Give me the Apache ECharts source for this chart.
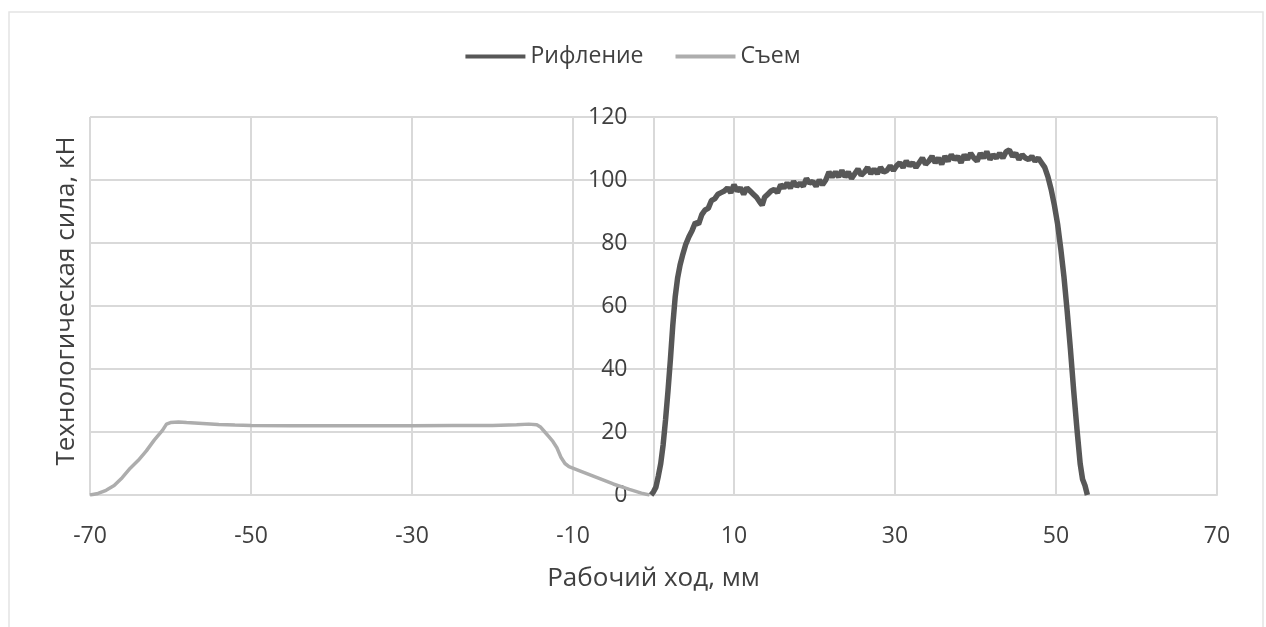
<!DOCTYPE html>
<html>
<head>
<meta charset="utf-8">
<script src="https://cdn.jsdelivr.net/npm/echarts@6/dist/echarts.min.js"></script>
<style>
html,body{margin:0;padding:0;background:#fff;}
#chart{width:1266px;height:627px;}
</style>
</head>
<body>
<div id="chart"></div>
<script>
// ---- Data ----
const seriesNames = ['Рифление', 'Съем'];
const xAxisTitle = 'Рабочий ход, мм';
const yAxisTitle = 'Технологическая сила, кН';

const riflX = [-0.3,0,0.3,0.6,0.9,1.2,1.5,1.8,2.1,2.4,2.7,3.0,3.3,3.6,4.0,4.4,4.8,5.2,5.6,6.0,6.4,6.8,7.2,7.6,8.0,8.4,8.8,9.2,9.6,10.0,10.4,10.8,11.2,11.6,12.0,12.4,12.8,13.2,13.5,13.8,14.2,14.6,15.0,15.4,15.8,16.2,16.6,17.0,17.4,17.8,18.2,18.6,19.0,19.4,19.8,20.2,20.6,21.0,21.4,21.8,22.2,22.6,23.0,23.4,23.8,24.2,24.6,25.0,25.4,25.8,26.2,26.6,27.0,27.4,27.8,28.2,28.6,29.0,29.4,29.8,30.2,30.6,31.0,31.4,31.8,32.2,32.6,33.0,33.4,33.8,34.2,34.6,35.0,35.4,35.8,36.2,36.6,37.0,37.4,37.8,38.2,38.6,39.0,39.4,39.8,40.2,40.6,41.0,41.4,41.8,42.2,42.6,43.0,43.4,43.8,44.2,44.6,45.0,45.4,45.8,46.2,46.6,47.0,47.4,47.8,48.2,48.6,49.0,49.4,49.8,50.2,50.6,51.0,51.4,51.8,52.2,52.6,53.0,53.3,53.6,53.9];
const riflY = [0,1,2.5,6,10,16,24,33,43,54,63,69,73,76,79.5,82,84,86.5,86,89,90.5,91,93.5,94,95.5,96,96.5,97.5,96,98.5,96.5,97.5,95.5,97.5,96.5,95.5,94.5,93,92,94.5,95.5,96.5,97,96,98.5,97.5,99,97.5,99.5,98,99,98,100.5,99,99.5,98,100,98.5,100,102.5,101,102.5,101,103,101,102.5,100.5,102,103.5,101.5,102.5,104,102,103.5,102,104,102.5,103,104.5,103,104.5,105.5,104,106,104.5,105.5,104,105.5,107,105,106,107.5,105.5,107,105,107.5,106,108,106.5,107.5,105.5,108,106.5,108.5,107,106,108.5,107,109,106.5,108,107,108.5,107,109,109.5,107.5,108.5,106.5,108,107,106.5,107.5,106,107,105.5,104,101,97,92,86,78,69,58,46,33,21,10,5,3,0];

const semX = [-70,-69,-68,-67,-66,-65,-64,-63,-62,-61,-60.5,-60,-59,-58,-56,-54,-52,-50,-45,-40,-35,-30,-25,-20,-17,-15.5,-14.5,-14,-13.5,-13,-12.5,-12,-11.5,-11,-10.5,-9,-7,-5,-3,-1.5,-0.5];
const semY = [0,0.5,1.5,3,5.5,8.5,11,14,17.5,20.5,22.5,23,23.2,23,22.7,22.4,22.2,22.1,22,22,22,22,22.1,22.1,22.3,22.5,22.3,21.5,20,18.5,17,15,12,10,9,7.5,5.5,3.5,1.8,0.6,0];

// ---- Chart ----
const FONT = "'Open Sans', sans-serif";
const TXT = '#404040';
const GRID = '#d9d9d9';
const GRID_LEFT = 90;

const zip = (xs, ys) => xs.map((x, i) => [x, ys[i]]);

const chart = echarts.init(document.getElementById('chart'), null, {renderer: 'canvas'});
chart.setOption({
  animation: false,
  backgroundColor: '#ffffff',
  textStyle: {fontFamily: FONT},
  legend: {
    top: 40,
    left: 'center',
    icon: 'rect',
    itemWidth: 60,
    itemHeight: 4,
    itemGap: 32,
    textStyle: {fontFamily: FONT, fontSize: 23, color: TXT},
    data: seriesNames
  },
  grid: {left: GRID_LEFT, right: 49, top: 117, bottom: 132, containLabel: false},
  xAxis: {
    type: 'value',
    min: -70, max: 70, interval: 10,
    name: xAxisTitle,
    nameLocation: 'middle',
    nameGap: 71,
    nameTextStyle: {fontFamily: FONT, fontSize: 26, color: TXT},
    axisLine: {onZero: false, lineStyle: {color: GRID, width: 2}},
    axisTick: {show: false},
    axisLabel: {
      fontFamily: FONT, fontSize: 23, color: TXT, margin: 30,
      formatter: v => (Math.abs(Math.round(v / 10)) % 2 === 1 ? String(v) : '')
    },
    splitLine: {show: true, lineStyle: {color: [GRID, 'rgba(0,0,0,0)'], width: 2}}
  },
  yAxis: {
    type: 'value',
    position: 'left',
    min: 0, max: 120, interval: 20,
    axisLine: {show: true, onZero: false, lineStyle: {color: GRID, width: 2}},
    axisTick: {show: false},
    axisLabel: {fontFamily: FONT, fontSize: 23, color: TXT, margin: 26},
    splitLine: {show: true, lineStyle: {color: GRID, width: 2}}
  },
  graphic: [
    {
      type: 'rect', silent: true, z: -1,
      shape: {x: 9, y: 12, width: 1254, height: 640},
      style: {fill: 'none', stroke: '#e4e4e4', lineWidth: 1.5}
    },
    {
      type: 'text', x: 67, y: 301, rotation: Math.PI / 2,
      style: {text: yAxisTitle, fontFamily: FONT, fontSize: 26, fill: TXT, align: 'center', verticalAlign: 'middle'}
    }
  ],
  series: [
    {
      name: seriesNames[0], type: 'line', showSymbol: false, symbol: 'none',
      data: zip(riflX, riflY),
      lineStyle: {color: '#575757', width: 5.5},
      itemStyle: {color: '#575757'},
      z: 3
    },
    {
      name: seriesNames[1], type: 'line', showSymbol: false, symbol: 'none',
      data: zip(semX, semY),
      lineStyle: {color: '#adadad', width: 3.5},
      itemStyle: {color: '#adadad'},
      z: 2
    }
  ]
});
// Place the y axis at x = 0 of the x scale (as in the original chart)
const zeroPx = chart.convertToPixel({xAxisIndex: 0}, 0);
chart.setOption({yAxis: {offset: -(zeroPx - GRID_LEFT)}});
</script>
</body>
</html>
